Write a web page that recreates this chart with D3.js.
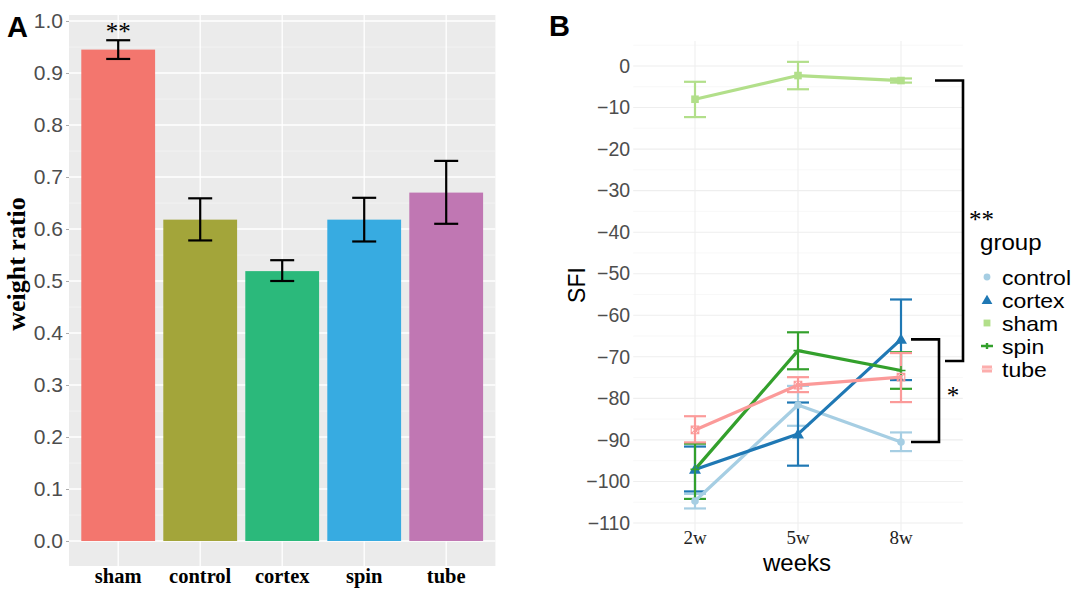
<!DOCTYPE html>
<html><head><meta charset="utf-8">
<script src="https://cdn.jsdelivr.net/npm/d3@7"></script>
<style>body{margin:0;background:#fff} svg{display:block}</style>
</head><body>
<svg id="chart" width="1085" height="591"></svg>
<script>
// ---------- Panel A data ----------
const barCategories = ["sham", "control", "cortex", "spin", "tube"];
const weightRatio   = [0.945, 0.618, 0.519, 0.618, 0.670];
const weightLow     = [0.927, 0.578, 0.500, 0.576, 0.610];
const weightHigh    = [0.963, 0.659, 0.540, 0.660, 0.731];
const barColors     = ["#f3766e", "#a3a53a", "#2bb97b", "#37abe1", "#c077b3"];
const yTicksA       = [0, 0.1, 0.2, 0.3, 0.4, 0.5, 0.6, 0.7, 0.8, 0.9, 1.0];

// ---------- Panel B data ----------
const weeks   = ["2w", "5w", "8w"];
const groups  = ["control", "cortex", "sham", "spin", "tube"];
const groupColors = ["#a6cee3", "#1f78b4", "#b2df8a", "#33a02c", "#fb9a99"];
const controlMean = [-104.7, -81.6, -90.5];
const controlHigh = [-103.0, -77.0, -88.2];
const controlLow  = [-106.5, -86.6, -92.7];
const cortexMean  = [-97.1, -88.6, -65.8];
const cortexHigh  = [-91.6, -81.0, -56.2];
const cortexLow   = [-102.4, -96.2, -75.6];
const shamMean    = [-8.0, -2.3, -3.5];
const shamHigh    = [-3.8, 1.0, -3.0];
const shamLow     = [-12.3, -5.6, -4.0];
const spinMean    = [-97.1, -68.5, -73.3];
const spinHigh    = [-90.9, -64.1, -68.9];
const spinLow     = [-104.2, -73.0, -77.7];
const tubeMean    = [-87.6, -76.8, -74.9];
const tubeHigh    = [-84.3, -74.9, -69.1];
const tubeLow     = [-90.6, -78.5, -80.9];
const yTicksB = [0, -10, -20, -30, -40, -50, -60, -70, -80, -90, -100, -110];

const SANS = "'Liberation Sans', Arial, Helvetica, sans-serif";
const SERIF = "'Liberation Serif', 'Times New Roman', Times, serif";

const svg = d3.select("#chart");

// ================= PANEL A =================
const gA = svg.append("g");
const xA = d3.scaleBand().domain(barCategories).range([69, 495.4]).paddingInner(0.1).paddingOuter(0.15);
const yA = d3.scaleLinear().domain([0, 1]).range([541, 21]);
const panelA = {x0: 69, x1: 495.4, y0: yA(1.0115), y1: yA(-0.048)};

gA.append("rect").attr("x", panelA.x0).attr("y", panelA.y0)
  .attr("width", panelA.x1 - panelA.x0).attr("height", panelA.y1 - panelA.y0)
  .attr("fill", "#ebebeb");
const minorA = d3.range(0.05, 1.0, 0.1);
gA.selectAll(".minA").data(minorA).enter().append("line")
  .attr("x1", panelA.x0).attr("x2", panelA.x1)
  .attr("y1", d => yA(d)).attr("y2", d => yA(d))
  .attr("stroke", "#f5f5f5").attr("stroke-width", 0.7);
gA.selectAll(".majA").data(yTicksA).enter().append("line")
  .attr("x1", panelA.x0).attr("x2", panelA.x1)
  .attr("y1", d => yA(d)).attr("y2", d => yA(d))
  .attr("stroke", "#ffffff").attr("stroke-width", 1.3);
gA.selectAll(".vA").data(barCategories).enter().append("line")
  .attr("x1", d => xA(d) + xA.bandwidth() / 2).attr("x2", d => xA(d) + xA.bandwidth() / 2)
  .attr("y1", panelA.y0).attr("y2", panelA.y1)
  .attr("stroke", "#ffffff").attr("stroke-width", 1.3);

gA.selectAll(".bar").data(barCategories).enter().append("rect")
  .attr("x", d => xA(d)).attr("width", xA.bandwidth())
  .attr("y", (d, i) => yA(weightRatio[i]))
  .attr("height", (d, i) => yA(0) - yA(weightRatio[i]))
  .attr("fill", (d, i) => barColors[i]);

const capA = 12;
barCategories.forEach((c, i) => {
  const cx = xA(c) + xA.bandwidth() / 2;
  const g = gA.append("g").attr("stroke", "#000").attr("stroke-width", 2.2).attr("fill", "none");
  g.append("line").attr("x1", cx).attr("x2", cx).attr("y1", yA(weightHigh[i])).attr("y2", yA(weightLow[i]));
  g.append("line").attr("x1", cx - capA).attr("x2", cx + capA).attr("y1", yA(weightHigh[i])).attr("y2", yA(weightHigh[i]));
  g.append("line").attr("x1", cx - capA).attr("x2", cx + capA).attr("y1", yA(weightLow[i])).attr("y2", yA(weightLow[i]));
});

const axA = gA.append("g").attr("transform", `translate(${panelA.x0},0)`)
  .call(d3.axisLeft(yA).tickValues(yTicksA).tickFormat(d3.format(".1f")).tickSize(3).tickPadding(3));
axA.select(".domain").remove();
axA.selectAll(".tick line").attr("stroke", "#aaaaaa");
axA.selectAll(".tick text").attr("fill", "#4d4d4d").style("font-family", SANS).style("font-size", "21px");

gA.selectAll(".xlabA").data(barCategories).enter().append("text")
  .attr("x", d => xA(d) + xA.bandwidth() / 2).attr("y", 583)
  .attr("text-anchor", "middle").style("font-family", SERIF).style("font-weight", "bold")
  .style("font-size", "20.5px").attr("fill", "#000").text(d => d);

gA.append("text").attr("transform", "translate(25,264) rotate(-90)")
  .attr("text-anchor", "middle").style("font-family", SERIF).style("font-weight", "bold")
  .style("font-size", "26px").attr("fill", "#000").text("weight ratio");

gA.append("text").attr("x", xA("sham") + xA.bandwidth() / 2).attr("y", 40)
  .attr("text-anchor", "middle").style("font-family", SERIF).style("font-size", "25px").text("**");

svg.append("text").attr("x", 7).attr("y", 37).style("font-family", SANS).style("font-weight", "bold")
  .style("font-size", "29px").text("A");

// ================= PANEL B =================
const gB = svg.append("g");
const xB = d3.scalePoint().domain(weeks).range([695, 901]);
const yB = d3.scaleLinear().domain([-110, 0]).range([523, 66]);
const stepB = xB.step();
const panelB = {x0: xB("2w") - 0.6 * stepB, x1: xB("8w") + 0.6 * stepB, y0: yB(6), y1: yB(-112)};

const minorB = d3.range(-105, 6, 10);
gB.selectAll(".minB").data(minorB).enter().append("line")
  .attr("x1", panelB.x0).attr("x2", panelB.x1)
  .attr("y1", d => yB(d)).attr("y2", d => yB(d))
  .attr("stroke", "#f6f6f6").attr("stroke-width", 0.8);
gB.selectAll(".majB").data(yTicksB).enter().append("line")
  .attr("x1", panelB.x0).attr("x2", panelB.x1)
  .attr("y1", d => yB(d)).attr("y2", d => yB(d))
  .attr("stroke", "#eeeeee").attr("stroke-width", 1.1);
gB.selectAll(".vB").data(weeks).enter().append("line")
  .attr("x1", d => xB(d)).attr("x2", d => xB(d))
  .attr("y1", panelB.y0).attr("y2", panelB.y1)
  .attr("stroke", "#eeeeee").attr("stroke-width", 1.1);

const axB = gB.append("g").attr("transform", `translate(${panelB.x0},0)`)
  .call(d3.axisLeft(yB).tickValues(yTicksB).tickFormat(d3.format("d")).tickSize(0).tickPadding(3));
axB.select(".domain").remove();
axB.selectAll(".tick text").attr("fill", "#4d4d4d").style("font-family", SANS).style("font-size", "19.5px");

gB.selectAll(".xlabB").data(weeks).enter().append("text")
  .attr("x", d => xB(d)).attr("y", 544).attr("text-anchor", "middle")
  .style("font-family", SERIF).style("font-size", "19px").attr("fill", "#222").text(d => d);

gB.append("text").attr("x", 797).attr("y", 571).attr("text-anchor", "middle")
  .style("font-family", SANS).style("font-size", "24px").attr("fill", "#000").text("weeks");
gB.append("text").attr("transform", "translate(585,285) rotate(-90)").attr("text-anchor", "middle")
  .style("font-family", SANS).style("font-size", "23px").attr("fill", "#000").text("SFI");

const means = [controlMean, cortexMean, shamMean, spinMean, tubeMean];
const highs = [controlHigh, cortexHigh, shamHigh, spinHigh, tubeHigh];
const lows  = [controlLow, cortexLow, shamLow, spinLow, tubeLow];

const capB = 11;
groups.forEach((gname, gi) => {
  const g = gB.append("g").attr("stroke", groupColors[gi]).attr("stroke-width", 2.2).attr("fill", "none");
  weeks.forEach((w, wi) => {
    const cx = xB(w);
    g.append("line").attr("x1", cx).attr("x2", cx).attr("y1", yB(highs[gi][wi])).attr("y2", yB(lows[gi][wi]));
    g.append("line").attr("x1", cx - capB).attr("x2", cx + capB).attr("y1", yB(highs[gi][wi])).attr("y2", yB(highs[gi][wi]));
    g.append("line").attr("x1", cx - capB).attr("x2", cx + capB).attr("y1", yB(lows[gi][wi])).attr("y2", yB(lows[gi][wi]));
  });
});
const lineGen = d3.line().x((d, i) => xB(weeks[i])).y(d => yB(d));
groups.forEach((gname, gi) => {
  gB.append("path").datum(means[gi]).attr("d", lineGen)
    .attr("fill", "none").attr("stroke", groupColors[gi]).attr("stroke-width", 3.2)
    .attr("stroke-linejoin", "round");
});

function drawShape(sel, shape, x, y, color, s) {
  if (shape === "circle") {
    sel.append("circle").attr("cx", x).attr("cy", y).attr("r", 3.8 * s).attr("fill", color);
  } else if (shape === "triangle") {
    sel.append("path").attr("d", d3.symbol().type(d3.symbolTriangle).size(62 * s * s)())
      .attr("transform", `translate(${x},${y + 1})`).attr("fill", color);
  } else if (shape === "square") {
    sel.append("rect").attr("x", x - 3.8 * s).attr("y", y - 3.8 * s).attr("width", 7.6 * s).attr("height", 7.6 * s).attr("fill", color);
  } else if (shape === "plus") {
    sel.append("path").attr("d", `M${x - 4.5 * s},${y}H${x + 4.5 * s}M${x},${y - 4.5 * s}V${y + 4.5 * s}`)
      .attr("stroke", color).attr("stroke-width", 1.6).attr("fill", "none");
  } else if (shape === "boxx") {
    const r = 3.8 * s;
    sel.append("path").attr("d", `M${x - r},${y - r}H${x + r}V${y + r}H${x - r}Z M${x - r},${y - r}L${x + r},${y + r}M${x + r},${y - r}L${x - r},${y + r}`)
      .attr("stroke", color).attr("stroke-width", 1.1).attr("fill", "none");
  }
}
const shapes = ["circle", "triangle", "square", "plus", "boxx"];
groups.forEach((gname, gi) => {
  weeks.forEach((w, wi) => drawShape(gB, shapes[gi], xB(w), yB(means[gi][wi]), groupColors[gi], 1));
});

const br = gB.append("g").attr("stroke", "#000").attr("stroke-width", 2.6).attr("fill", "none");
br.append("path").attr("d", `M935,${yB(shamMean[2])}H963V${yB(-71.0)}H945`);
br.append("path").attr("d", `M911,${yB(cortexMean[2])}H939V${yB(controlMean[2])}H911`);
gB.append("text").attr("x", 953).attr("y", 404).attr("text-anchor", "middle")
  .style("font-family", SERIF).style("font-size", "25px").text("*");
gB.append("text").attr("x", 969).attr("y", 228)
  .style("font-family", SERIF).style("font-size", "25px").text("**");

// legend
const lg = svg.append("g");
lg.append("text").attr("transform", "translate(980,250) scale(1.12,1)").style("font-family", SANS).style("font-size", "21.5px")
  .attr("fill", "#000").text("group");
groups.forEach((gname, gi) => {
  const by = 285 + gi * 23;
  const ky = by - 8;
  if (shapes[gi] === "plus") {
    lg.append("path").attr("d", `M981,${ky}H993M987,${ky - 3}V${ky + 3}`).attr("stroke", groupColors[gi]).attr("stroke-width", 2.4);
  } else if (shapes[gi] === "boxx") {
    lg.append("rect").attr("x", 982).attr("y", ky - 3.5).attr("width", 10).attr("height", 7).attr("fill", groupColors[gi]).attr("opacity", 0.8);
    lg.append("line").attr("x1", 981).attr("x2", 993).attr("y1", ky).attr("y2", ky).attr("stroke", "#fde0e0").attr("stroke-width", 1.2);
  } else {
    drawShape(lg, shapes[gi], 987, ky, groupColors[gi], 0.9);
  }
  lg.append("text").attr("transform", `translate(1002,${by}) scale(1.15,1)`).style("font-family", SANS).style("font-size", "20px")
    .attr("fill", "#000").text(gname);
});

svg.append("text").attr("x", 549).attr("y", 36).style("font-family", SANS).style("font-weight", "bold")
  .style("font-size", "29px").text("B");
</script>
</body></html>
